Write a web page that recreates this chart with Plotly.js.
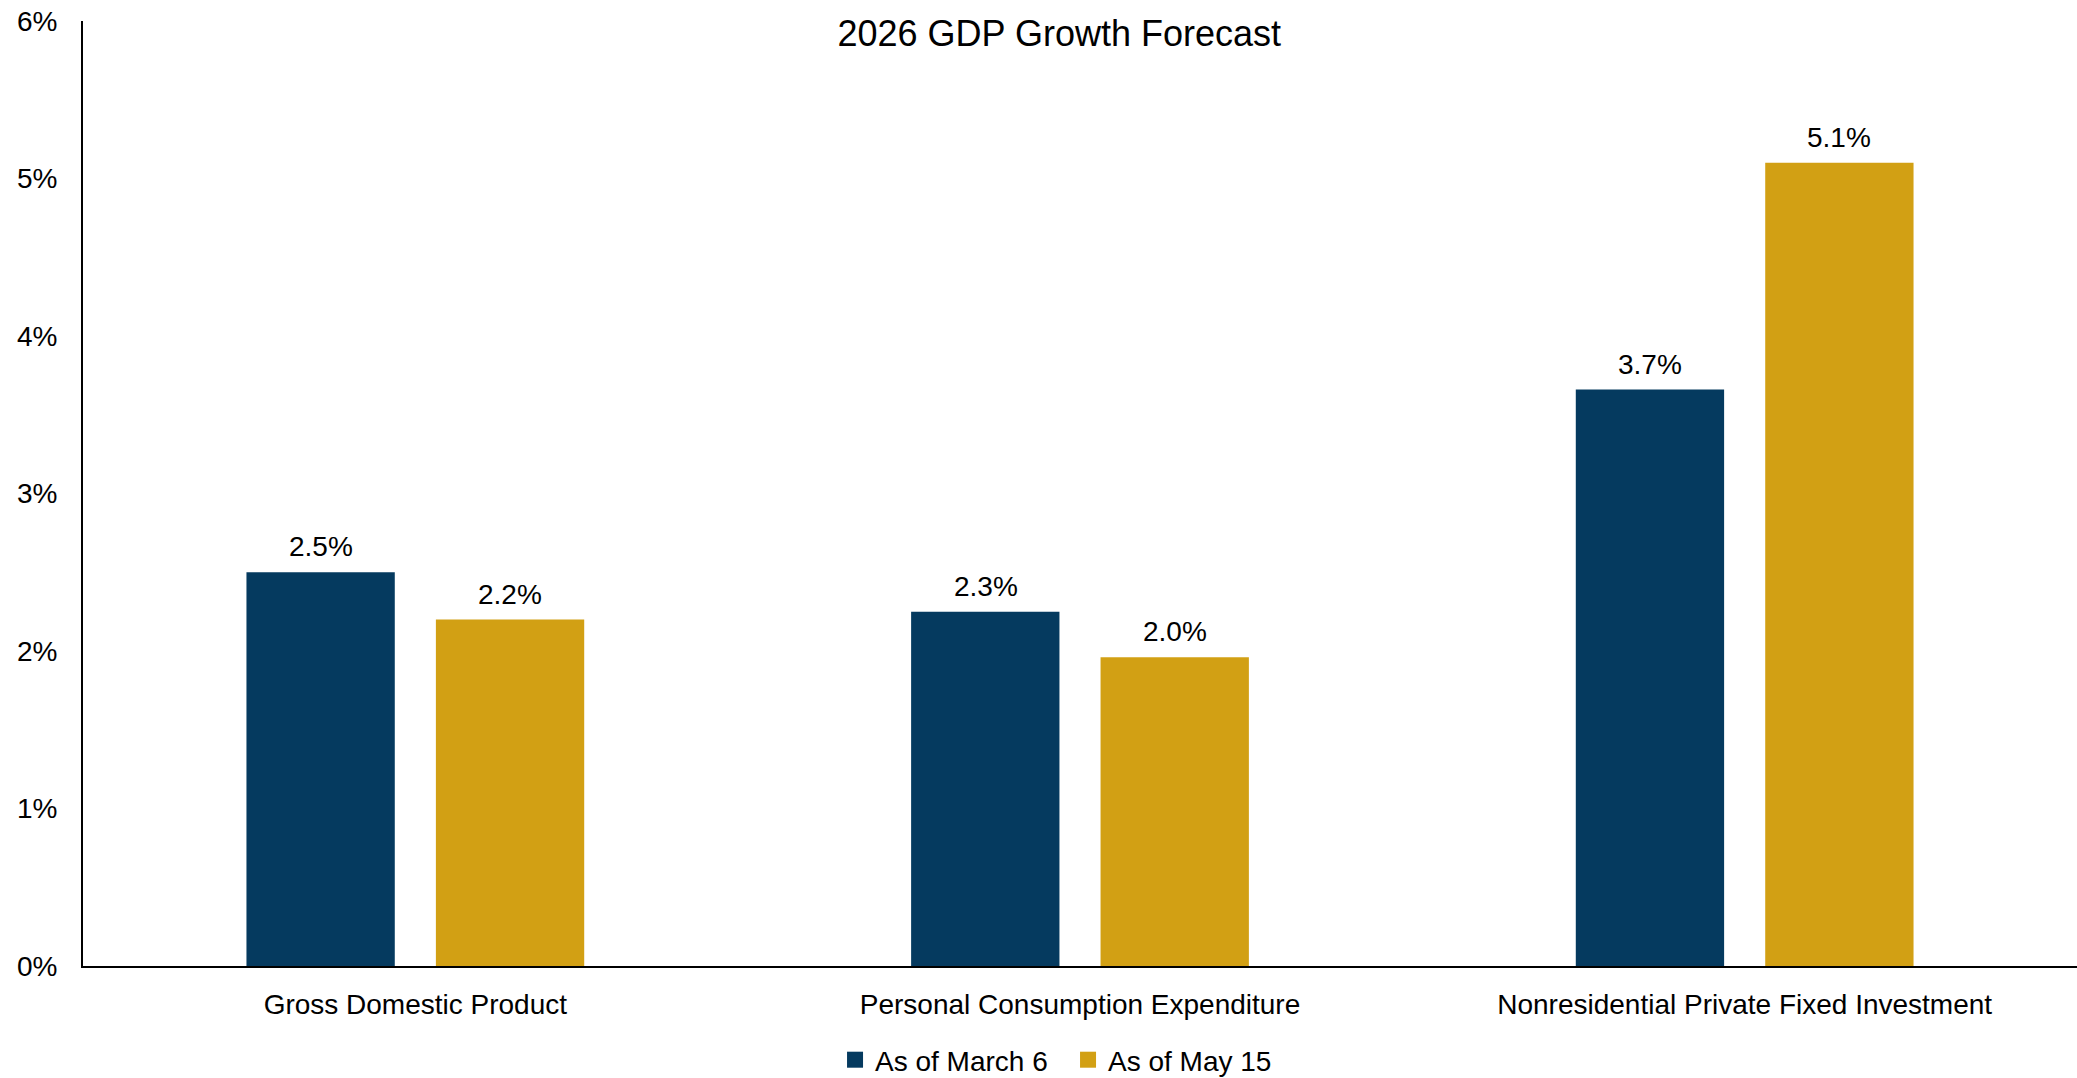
<!DOCTYPE html>
<html>
<head>
<meta charset="utf-8">
<script src="https://cdn.plot.ly/plotly-3.0.1.min.js"></script>
<style>html,body{margin:0;padding:0;background:#fff;}#chart{width:2077px;height:1078px;}</style>
</head>
<body>
<div id="chart"></div>
<script>
const categories = ["Gross Domestic Product", "Personal Consumption Expenditure", "Nonresidential Private Fixed Investment"];
const seriesNames = ["As of March 6", "As of May 15"];
const marchValues = [2.5, 2.25, 3.66];
const mayValues = [2.2, 1.96, 5.1];
const yTickValues = [0, 1, 2, 3, 4, 5, 6];
const yTickLabels = ["0%", "1%", "2%", "3%", "4%", "5%", "6%"];

const colors = ["#053A5F", "#D2A014"];
const FONT = "Liberation Sans, Arial, sans-serif";

const traces = [
  {type: "bar", name: seriesNames[0], x: categories, y: marchValues, marker: {color: colors[0]}, hoverinfo: "none", showlegend: false},
  {type: "bar", name: seriesNames[1], x: categories, y: mayValues, marker: {color: colors[1]}, hoverinfo: "none", showlegend: false},
  // legend entries (square swatches)
  {type: "scatter", mode: "markers", name: seriesNames[0], x: [null], y: [null],
   marker: {symbol: "square", size: 16, color: colors[0]}, hoverinfo: "none"},
  {type: "scatter", mode: "markers", name: seriesNames[1], x: [null], y: [null],
   marker: {symbol: "square", size: 16, color: colors[1]}, hoverinfo: "none"}
];

// value labels above bars, positioned from the data via the axes
const annotations = [];
[marchValues, mayValues].forEach((vals, si) => {
  vals.forEach((v, i) => {
    annotations.push({
      x: categories[i], y: v, xref: "x", yref: "y",
      text: v.toFixed(1) + "%",
      showarrow: false, yanchor: "bottom",
      xshift: si === 0 ? -94.5 : 94.5, yshift: 8,
      font: {family: FONT, size: 28, color: "#000"}
    });
  });
});

const layout = {
  width: 2077, height: 1078, autosize: false,
  margin: {l: 83, r: 0, t: 21, b: 112, pad: 0, autoexpand: false},
  paper_bgcolor: "#fff", plot_bgcolor: "#fff",
  font: {family: FONT, size: 28, color: "#000"},
  title: {text: "2026 GDP Growth Forecast", x: 0.51, xref: "container", xanchor: "center",
          y: 1 - 33/1078, yref: "container", yanchor: "middle",
          font: {family: FONT, size: 36, color: "#000"}},
  barmode: "group", bargap: 0.43, bargroupgap: 0.217,
  xaxis: {type: "category", showline: true, linecolor: "#000", linewidth: 2, ticks: "", showgrid: false, zeroline: false,
          tickfont: {family: FONT, size: 28, color: "#000"}, ticklabelstandoff: 12, fixedrange: true, automargin: false},
  yaxis: {range: [0, 6], tickmode: "array", tickvals: yTickValues, ticktext: yTickLabels, showline: true, linecolor: "#000", linewidth: 2,
          ticks: "", showgrid: false, zeroline: false, ticklabelstandoff: 18, automargin: false,
          tickfont: {family: FONT, size: 28, color: "#000"}, fixedrange: true},
  showlegend: true,
  legend: {orientation: "h", x: 0.494, xanchor: "center", yref: "container", y: (1078 - 1060) / 1078, yanchor: "middle",
           entrywidth: 188, entrywidthmode: "pixels",
           font: {family: FONT, size: 28, color: "#000"}, traceorder: "normal"},
  annotations: annotations
};

Plotly.newPlot("chart", traces, layout, {displayModeBar: false, staticPlot: true});
</script>
</body>
</html>
